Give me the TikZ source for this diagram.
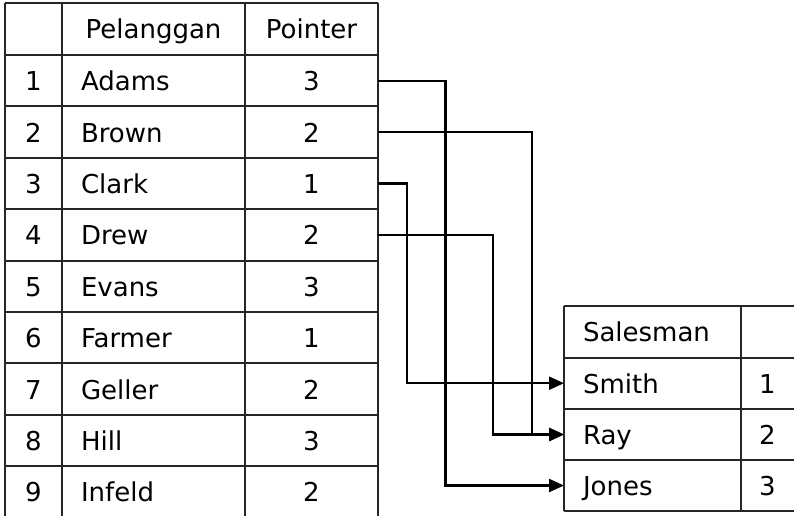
\documentclass[tikz,border=0pt]{standalone}
\usepackage{fontspec}
\setmainfont{DejaVu Sans}
\usetikzlibrary{arrows.meta}
\begin{document}
\begin{tikzpicture}[x=1pt,y=-1pt,
  grid/.style={line width=2pt, draw=black!85},
  conn/.style={line width=2.2pt, draw=black, -{Triangle[length=15pt,width=13pt]}},
  txt/.style={inner ysep=0pt, outer sep=0pt, text height=20pt, text depth=0pt,
              font=\fontsize{26}{30}\selectfont},
  ccell/.style={txt, minimum width=#1, inner xsep=0pt, align=center},
  lcell/.style={txt, text width=#1, inner xsep=19pt, align=left},
  scell/.style={txt, text width=#1, inner xsep=19pt, align=left}]
\useasboundingbox (0,0) rectangle (794,516);

% customer table grid
\foreach \x in {5,62,245,378} \draw[grid] (\x,3) -- (\x,516);
\draw[grid] (5,3) -- (378,3);
\draw[grid] (5,55) -- (378,55);
\foreach \k in {1,...,8} \draw[grid] (5,55+51.4*\k) -- (378,55+51.4*\k);

% salesman table grid
\foreach \x in {564,741} \draw[grid] (\x,306) -- (\x,511);
\foreach \y in {306,357.5,409,460,511} \draw[grid] (564,\y) -- (794,\y);

% customer table headers
\node[ccell=183pt] (hname) at (153.5,29) {Pelanggan};
\node[ccell=133pt] (hptr) at (311.5,29) {Pointer};

% customer rows
\foreach \i/\nm/\p in {1/Adams/3,2/Brown/2,3/Clark/1,4/Drew/2,5/Evans/3,
                       6/Farmer/1,7/Geller/2,8/Hill/3,9/Infeld/2}{
  \pgfmathsetmacro\yc{55+51.4*(\i-0.5)}
  \node[ccell=57pt] (n\i) at (33.5,\yc) {\i};
  \node[lcell=145pt] (c\i) at (153.5,\yc) {\nm};
  \node[ccell=133pt] (p\i) at (311.5,\yc) {\p};
}

% salesman table
\node[scell=139pt] (hs) at (652.5,331.7) {Salesman};
\foreach \j/\nm/\y in {1/Smith/383.2,2/Ray/434.5,3/Jones/485.5}{
  \node[scell=139pt] (s\j) at (652.5,\y) {\nm};
  \node[ccell=53pt] (k\j) at (767.5,\y) {\j};
}

% pointer links
\draw[conn] (p1.east) -- ([xshift=67.5pt]p1.east) |- (s3.west);
\draw[conn] (p2.east) -- ([xshift=153.7pt]p2.east) |- (s2.west);
\draw[conn] (p3.east) -- ([xshift=28.7pt]p3.east) |- (s1.west);
\draw[conn] (p4.east) -- ([xshift=115pt]p4.east) |- (s2.west);
\end{tikzpicture}
\end{document}
